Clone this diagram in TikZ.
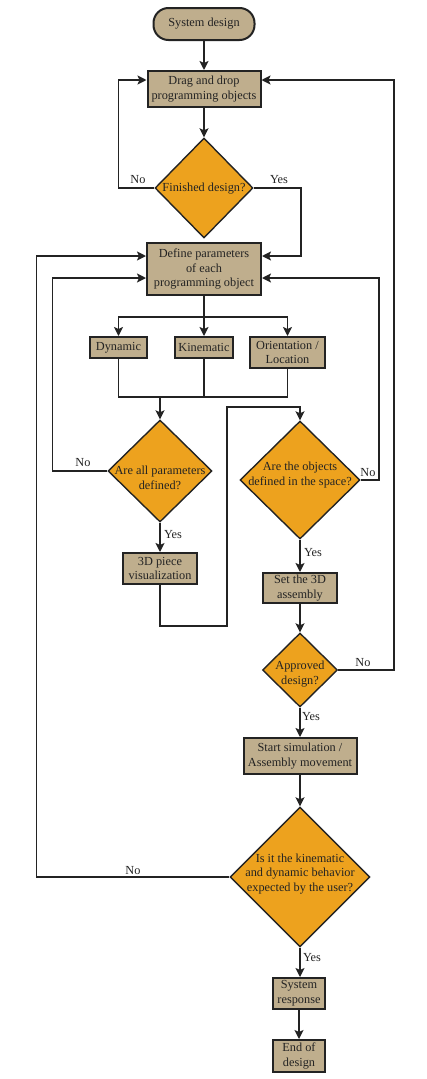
\documentclass[tikz,border=0pt]{standalone}
\usepackage{fontspec}
\setmainfont{Liberation Serif}
\usetikzlibrary{shapes.geometric,arrows.meta,calc}
\definecolor{boxtan}{RGB}{191,174,141}
\definecolor{diaor}{RGB}{237,162,30}
\definecolor{ink}{RGB}{35,35,35}
\begin{document}
\begin{tikzpicture}[x=1pt,y=-1pt,
  every node/.style={font=\fontsize{12.3}{14.6}\selectfont, text=ink},
  box/.style={draw=ink, line width=2pt, fill=boxtan, rectangle, inner sep=0pt, align=center},
  dia/.style={draw=ink, line width=1.4pt, fill=diaor, diamond, inner sep=0pt},
  dtext/.style={align=center, inner sep=0pt},
  lbl/.style={inner sep=0pt},
  arr/.style={draw=ink, line width=1.6pt, -{Stealth[length=9pt,width=9pt,inset=2pt]}},
  ln/.style={draw=ink, line width=1.6pt}]
\useasboundingbox (0,0) rectangle (426,1079);
% coordinates for loop levels
\coordinate (yA) at (0,80);
\coordinate (yB) at (0,256);
\coordinate (yC) at (0,278);
% nodes
\node[box, rounded corners=15pt, minimum width=101pt, minimum height=32pt] (start) at (204,24) {System design};
\node[box, minimum width=113pt, minimum height=36pt] (drag) at (204,89) {Drag and drop\\programming objects};
\node[dia, minimum width=98pt, minimum height=100pt] (fin) at (204,188) {};
\node[dtext] (fint) at (204,189) {Finished design?};
\node[box, minimum width=114pt, minimum height=52pt] (def) at (204,269) {Define parameters\\of each\\programming object};
\node[box, minimum width=57pt, minimum height=21pt] (dyn) at (118.5,347.5) {Dynamic};
\node[box, minimum width=58pt, minimum height=21pt] (kin) at (204,347.5) {Kinematic};
\node[box, minimum width=75pt, minimum height=31pt] (ori) at (287.5,352.5) {Orientation /\\Location};
\node[dia, minimum width=104pt, minimum height=102pt] (d1) at (160,471) {};
\node[dtext] (d1t) at (160,478) {Are all parameters\\defined?};
\node[box, minimum width=74pt, minimum height=31pt] (p3d) at (160,568.5) {3D piece\\visualization};
\node[dia, minimum width=120pt, minimum height=118pt] (d2) at (300,480) {};
\node[dtext] (d2t) at (300,475) {Are the objects\\defined in the space?};
\node[box, minimum width=74pt, minimum height=30pt] (set) at (300,588) {Set the 3D\\assembly};
\node[dia, minimum width=75pt, minimum height=74pt] (appr) at (300,670) {};
\node[dtext] (apprt) at (300,674) {Approved\\design?};
\node[box, minimum width=113pt, minimum height=36pt] (sim) at (300,756) {Start simulation /\\Assembly movement};
\node[dia, minimum width=140pt, minimum height=140pt] (fin2) at (300,877) {};
\node[dtext] (fin2t) at (300,874) {Is it the kinematic\\and dynamic behavior\\expected by the user?};
\node[box, minimum width=52pt, minimum height=31pt] (resp) at (299,993.5) {System\\response};
\node[box, minimum width=52pt, minimum height=32pt] (end) at (299,1056) {End of\\design};
% connectors
\draw[arr] (start) -- (drag);
\draw[arr] (drag) -- (fin.north);
\draw[arr] (fin.west) -- ++(-36,0) |- (drag.west |- yA);
\draw[arr] (fin.east) -- ++(47,0) |- (def.east |- yB);
\coordinate (br) at (204,317);
\draw[ln] (def.south) -- (br);
\draw[arr] (br) -| (dyn.north);
\draw[arr] (br) -| (ori.north);
\draw[arr] (br) -- (kin.north);
\coordinate (j) at (204,397);
\draw[ln] (dyn.south) |- (j) -| (ori.south);
\draw[ln] (kin.south) -- (j);
\draw[arr] (d1.north |- j) -- (d1.north);
\draw[arr] (d1.west) -- ++(-55,0) |- (def.west |- yC);
\draw[arr] (d1.south) -- (p3d.north);
\coordinate (k1) at (227,626);
\coordinate (k2) at (227,407);
\draw[arr] (p3d.south) |- (k1) -- (k2) -| (d2.north);
\draw[arr] (d2.east) -- ++(18,0) |- (def.east |- yC);
\draw[arr] (d2.south) -- (set.north);
\draw[arr] (set.south) -- (appr.north);
\draw[arr] (appr.east) -- ++(56,0) |- (drag.east |- yA);
\draw[arr] (appr.south) -- (sim.north);
\draw[arr] (sim.south) -- (fin2.north);
\draw[arr] (fin2.west) -- ++(-193,0) |- (def.west |- yB);
\draw[arr] (fin2.south) -- (fin2.south |- resp.north);
\draw[arr] (resp.south) -- (end.north);
% labels
\node[lbl] (l1) at (138,180) {No};
\node[lbl] (l2) at (279,180) {Yes};
\node[lbl] (l3) at (83,463) {No};
\node[lbl] (l4) at (173,535) {Yes};
\node[lbl] (l5) at (368,473) {No};
\node[lbl] (l6) at (313,553) {Yes};
\node[lbl] (l7) at (363,663) {No};
\node[lbl] (l8) at (311,717) {Yes};
\node[lbl] (l9) at (133,871) {No};
\node[lbl] (l10) at (312,958) {Yes};
\end{tikzpicture}
\end{document}
